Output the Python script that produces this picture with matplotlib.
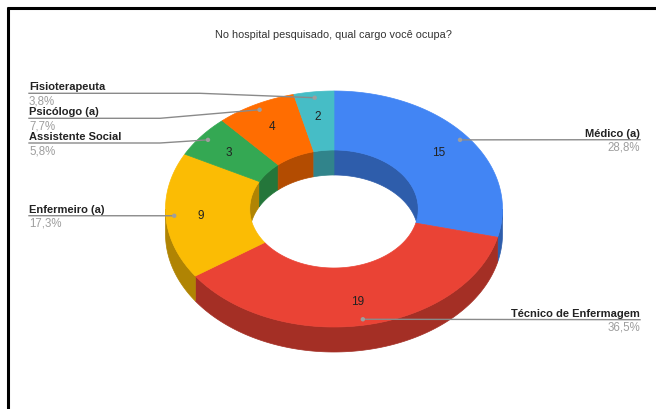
import numpy as np
import matplotlib
matplotlib.use("Agg")
import matplotlib.pyplot as plt
from matplotlib.patches import Polygon, Circle
from matplotlib.colors import to_rgb

plt.rcParams['font.family'] = ['Liberation Sans', 'DejaVu Sans']

# Data
title = "No hospital pesquisado, qual cargo você ocupa?"
categories = ["Médico (a)", "Técnico de Enfermagem", "Enfermeiro (a)",
              "Assistente Social", "Psicólogo (a)", "Fisioterapeuta"]
counts = [15, 19, 9, 3, 4, 2]
percent_labels = ["28,8%", "36,5%", "17,3%", "5,8%", "7,7%", "3,8%"]
colors = ["#4285F4", "#EA4335", "#FBBC04", "#34A853", "#FF6D01", "#46BDC6"]

W, H = 656, 410
fig = plt.figure(figsize=(W / 100, H / 100), dpi=100)
ax = fig.add_axes([0, 0, 1, 1])
ax.set_xlim(0, W)
ax.set_ylim(H, 0)
ax.axis("off")

# frame lines (top and left)
ax.plot([7, W], [8.5, 8.5], color="black", lw=2.2, solid_capstyle="butt")
ax.plot([7.5, 7.5], [8, H], color="black", lw=2.2, solid_capstyle="butt")

ax.text(333.5, 35, title, ha="center", va="center", fontsize=7.8, color="#333333")

# 3D donut geometry (screen units)
cx, cy = 334, 210
a_out, b_out = 168.5, 118
hole = 0.5
depth = 25

total = sum(counts)
bounds = np.concatenate([[0], np.cumsum(counts)]) / total * 2 * np.pi  # clockwise from top


def pt(theta, r, dy=0.0):
    return cx + r * a_out * np.sin(theta), cy - r * b_out * np.cos(theta) + dy


def arc(t0, t1, r, dy=0.0, n=None):
    n = n or max(4, int(abs(t1 - t0) / (2 * np.pi) * 400))
    t = np.linspace(t0, t1, n)
    x, y = pt(t, r, dy)
    return np.column_stack([x, y])


def shade(c, f=0.7):
    return tuple(v * f for v in to_rgb(c))


# outer side walls (front half: theta in [pi/2, 3pi/2])
for i, c in enumerate(colors):
    t0, t1 = max(bounds[i], np.pi / 2), min(bounds[i + 1], 3 * np.pi / 2)
    if t1 > t0:
        top = arc(t0, t1, 1.0)
        bot = arc(t0, t1, 1.0, depth)[::-1]
        ax.add_patch(Polygon(np.vstack([top, bot]), closed=True,
                             facecolor=shade(c), edgecolor=shade(c), lw=0.5, zorder=2))

# inner side walls (back half: theta in [3pi/2, 2pi] and [0, pi/2])
for i, c in enumerate(colors):
    for lo, hi in [(0, np.pi / 2), (3 * np.pi / 2, 2 * np.pi)]:
        t0, t1 = max(bounds[i], lo), min(bounds[i + 1], hi)
        if t1 > t0:
            top = arc(t0, t1, hole)
            bot = arc(t0, t1, hole, depth)[::-1]
            ax.add_patch(Polygon(np.vstack([top, bot]), closed=True,
                                 facecolor=shade(c), edgecolor=shade(c), lw=0.5, zorder=2))

# top faces
for i, c in enumerate(colors):
    t0, t1 = bounds[i], bounds[i + 1]
    outer = arc(t0, t1, 1.0)
    inner = arc(t0, t1, hole)[::-1]
    ax.add_patch(Polygon(np.vstack([outer, inner]), closed=True,
                         facecolor=c, edgecolor=c, lw=0.5, zorder=3))

# value labels inside slices
mids = (bounds[:-1] + bounds[1:]) / 2
for m, v in zip(mids, counts):
    x, y = pt(m, 0.79)
    ax.text(x, y, str(v), ha="center", va="center", fontsize=8.5, color="#222222", zorder=5)

# leader lines and category labels
label_pos = {
    0: ("right", 640, 140.7, None),
    1: ("right", 640, 320.7, None),
    2: ("left", 29, 216.7, None),
    3: ("left", 29, 144.0, 160),
    4: ("left", 29, 119.3, 160),
    5: ("left", 29, 94.3, 200),
}
line_col = "#8a8a8a"
for i, (side, lx, ly, elbow) in label_pos.items():
    dx, dy = pt(mids[i], 0.95)
    if elbow is None:
        xs, ys = [lx, dx], [ly, dy]
    else:
        xs, ys = [lx, elbow, dx], [ly, ly, dy]
    ax.plot(xs, ys, color=line_col, lw=1.0, zorder=6)
    ax.add_patch(Circle((dx, dy), 2.2, facecolor="#9e9e9e", edgecolor="none", zorder=7))
    ha = "left" if side == "left" else "right"
    ax.text(lx, ly - 2.0, categories[i], ha=ha, va="bottom", fontsize=8,
            fontweight="bold", color="#222222", zorder=7)
    ax.text(lx, ly + 1.2, percent_labels[i], ha=ha, va="top", fontsize=8.3,
            color="#9e9e9e", zorder=7)

fig.savefig("out.png", dpi=100, facecolor="white")
